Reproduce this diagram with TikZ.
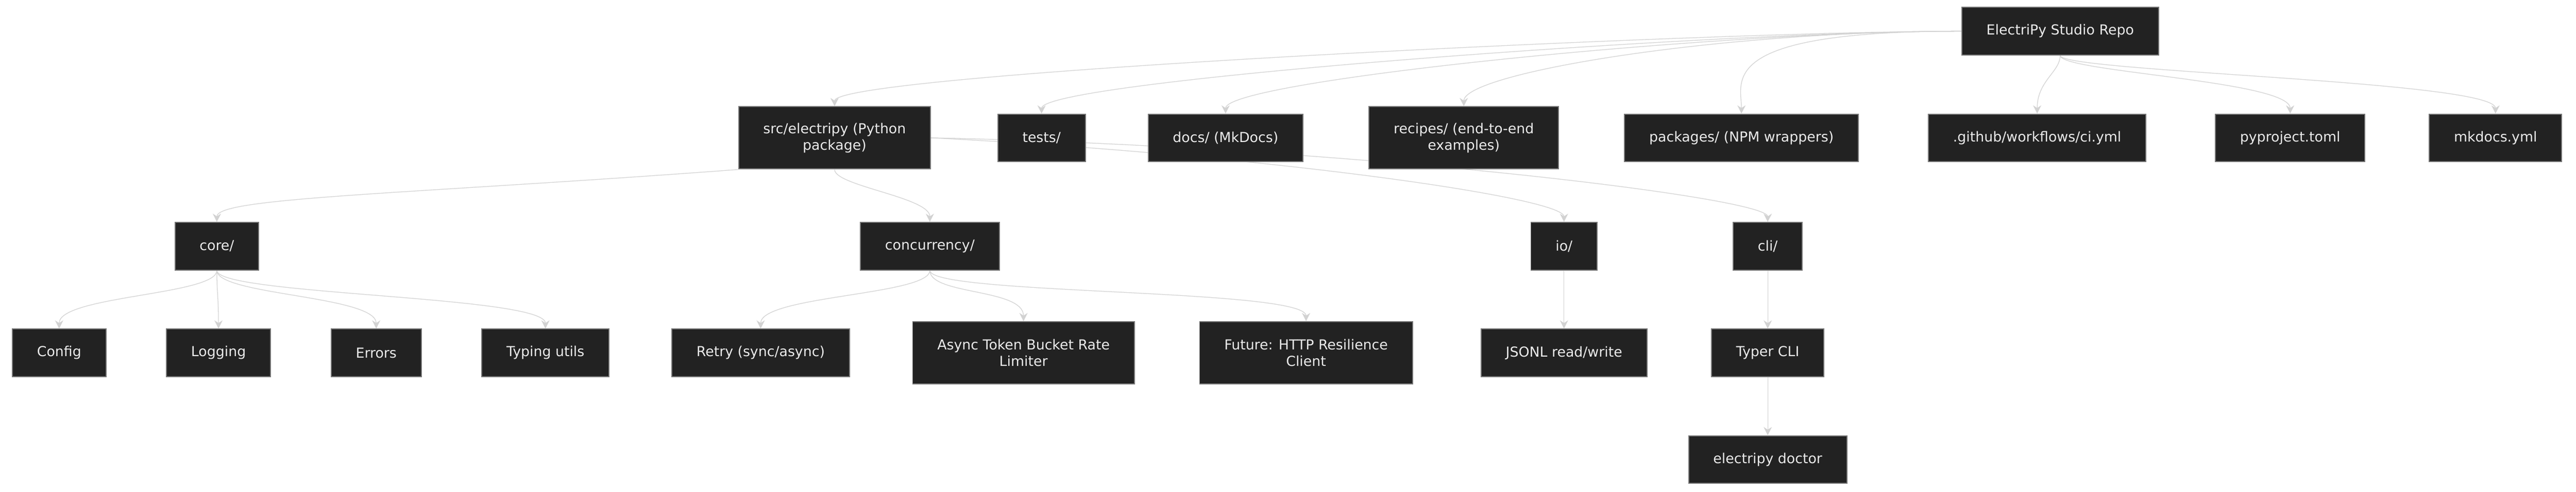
\documentclass[tikz,border=0pt]{standalone}
\usepackage{fontspec}
\setmainfont{DejaVu Sans}
\usetikzlibrary{arrows.meta,backgrounds}
\tikzset{every picture/.style={line width=0.6pt}}
\tikzset{box/.style={draw={rgb,255:red,120;green,120;blue,120},fill={rgb,255:red,34;green,34;blue,34},text={rgb,255:red,235;green,235;blue,235},font=\fontsize{8.4}{10}\selectfont,align=center,inner xsep=15pt,inner ysep=0pt,minimum height=29pt},
 link/.style={draw={rgb,255:red,210;green,210;blue,210},-{Stealth[length=5pt,width=5pt]}}}
\begin{document}
\begin{tikzpicture}[x=1pt,y=-1pt]
\useasboundingbox (0,0) rectangle (1568,299.5);

%Root
\node[box] (repo) at (1254,19) {ElectriPy Studio Repo};
%Row one
\node[box,minimum height=38pt] (src) at (508,84) {src/electripy (Python\\package)};
\node[box] (tests) at (634,84) {tests/};
\node[box] (docs) at (746,84) {docs/ (MkDocs)};
\node[box,minimum height=38pt] (recipes) at (891,84) {recipes/ (end-to-end\\examples)};
\node[box] (packages) at (1060,84) {packages/ (NPM wrappers)};
\node[box] (github) at (1240,84) {.github/workflows/ci.yml};
\node[box] (pyproject) at (1394,84) {pyproject.toml};
\node[box] (mkdocs) at (1519,84) {mkdocs.yml};
%Row two
\node[box] (core) at (132,150) {core/};
\node[box] (conc) at (566,150) {concurrency/};
\node[box] (io) at (952,150) {io/};
\node[box] (cli) at (1076,150) {cli/};
%Row three
\node[box] (config) at (36,215) {Config};
\node[box] (logging) at (133,215) {Logging};
\node[box] (errors) at (229,215) {Errors};
\node[box] (typing) at (332,215) {Typing utils};
\node[box] (retry) at (463,215) {Retry (sync/async)};
\node[box,minimum height=38pt] (bucket) at (623,215) {Async Token Bucket Rate\\Limiter};
\node[box,minimum height=38pt] (future) at (795,215) {Future: HTTP Resilience\\Client};
\node[box] (jsonl) at (952,215) {JSONL read/write};
\node[box] (typer) at (1076,215) {Typer CLI};
%Row four
\node[box] (doctor) at (1076,280) {electripy doctor};

\begin{scope}[on background layer]
%Links from root
\foreach \c in {src,tests,docs,recipes,packages}
  \draw[link] (repo.west) .. controls +(-150,0) and +(0,-20) .. (\c.north);
\foreach \c in {github,pyproject,mkdocs}
  \draw[link] (repo.south) .. controls +(0,10) and +(0,-20) .. (\c.north);
%Links from src
\draw[link] (src.south west) .. controls +(-200,15) and +(0,-15) .. (core.north);
\draw[link] (src.south) .. controls +(0,10) and +(0,-15) .. (conc.north);
\draw[link] (src.east) .. controls +(200,10) and +(0,-15) .. (io.north);
\draw[link] (src.east) .. controls +(250,5) and +(0,-15) .. (cli.north);
%Links from core
\foreach \c in {config,logging,errors,typing}
  \draw[link] (core.south) .. controls +(0,15) and +(0,-20) .. (\c.north);
\foreach \c in {retry,bucket,future}
  \draw[link] (conc.south) .. controls +(0,15) and +(0,-20) .. (\c.north);
\draw[link] (io) -- (jsonl);
\draw[link] (cli) -- (typer);
\draw[link] (typer) -- (doctor);
\end{scope}
\end{tikzpicture}
\end{document}
